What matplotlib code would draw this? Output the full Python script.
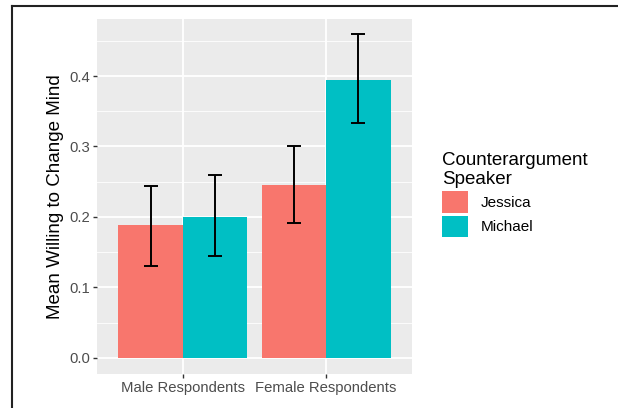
import matplotlib.pyplot as plt
import numpy as np
from matplotlib.lines import Line2D
from matplotlib.patches import Patch

plt.rcParams["font.family"] = ["Liberation Sans", "DejaVu Sans"]

groups = ["Male Respondents", "Female Respondents"]
speakers = ["Jessica", "Michael"]
colors = ["#F8766D", "#00BFC4"]
means = {
    "Jessica": [0.188, 0.246],
    "Michael": [0.200, 0.395],
}
lower = {
    "Jessica": [0.130, 0.192],
    "Michael": [0.144, 0.334],
}
upper = {
    "Jessica": [0.244, 0.301],
    "Michael": [0.259, 0.459],
}

fig = plt.figure(figsize=(6.18, 4.08), dpi=100)
ax = fig.add_axes([97 / 618, 1 - 374 / 408, 315 / 618, 355 / 408])
ax.set_facecolor("#EBEBEB")

x = np.arange(1, len(groups) + 1)
w = 0.45
for i, (s, c) in enumerate(zip(speakers, colors)):
    xs = x + (i - 0.5) * w
    m = np.array(means[s])
    ax.bar(xs, m, width=w, color=c, zorder=2)
    err = [m - np.array(lower[s]), np.array(upper[s]) - m]
    ax.errorbar(xs, m, yerr=err, fmt="none", ecolor="black", elinewidth=1.4,
                capsize=5, capthick=1.4, zorder=3)

ax.set_xlim(0.4, 2.6)
ax.set_ylim(-0.023, 0.481)
ax.set_xticks(x)
ax.set_xticklabels(groups)
ax.set_yticks([0.0, 0.1, 0.2, 0.3, 0.4])
ax.set_yticklabels(["0.0", "0.1", "0.2", "0.3", "0.4"])
ax.set_yticks([0.05, 0.15, 0.25, 0.35, 0.45], minor=True)
ax.grid(which="major", color="white", linewidth=1.3, zorder=0)
ax.grid(which="minor", axis="y", color="white", linewidth=0.6, zorder=0)
ax.set_axisbelow(True)
ax.tick_params(which="major", length=3, width=1, color="#333333",
               labelsize=10.7, labelcolor="#4D4D4D", pad=2)
ax.tick_params(which="minor", length=0)
for sp in ax.spines.values():
    sp.set_visible(False)
ax.set_ylabel("Mean Willing to Change Mind", fontsize=13.5, labelpad=4)

handles = [Patch(facecolor=c, edgecolor="none") for c in colors]
leg = fig.legend(handles, speakers, title="Counterargument\nSpeaker",
                 loc="upper left", bbox_to_anchor=(428 / 618, 1 - 138 / 408),
                 frameon=False, fontsize=11, title_fontsize=13.5,
                 handlelength=1.75, handleheight=1.75, handletextpad=0.8,
                 labelspacing=0.2)
leg._legend_box.align = "left"

# cropped screenshot border
fig.add_artist(Line2D([12 / 618, 12 / 618], [0, 1 - 6 / 408], color="#222222",
                      linewidth=1.5, transform=fig.transFigure))
fig.add_artist(Line2D([12 / 618, 1], [1 - 6 / 408, 1 - 6 / 408], color="#222222",
                      linewidth=1.5, transform=fig.transFigure))

fig.savefig("out.png", dpi=100)
